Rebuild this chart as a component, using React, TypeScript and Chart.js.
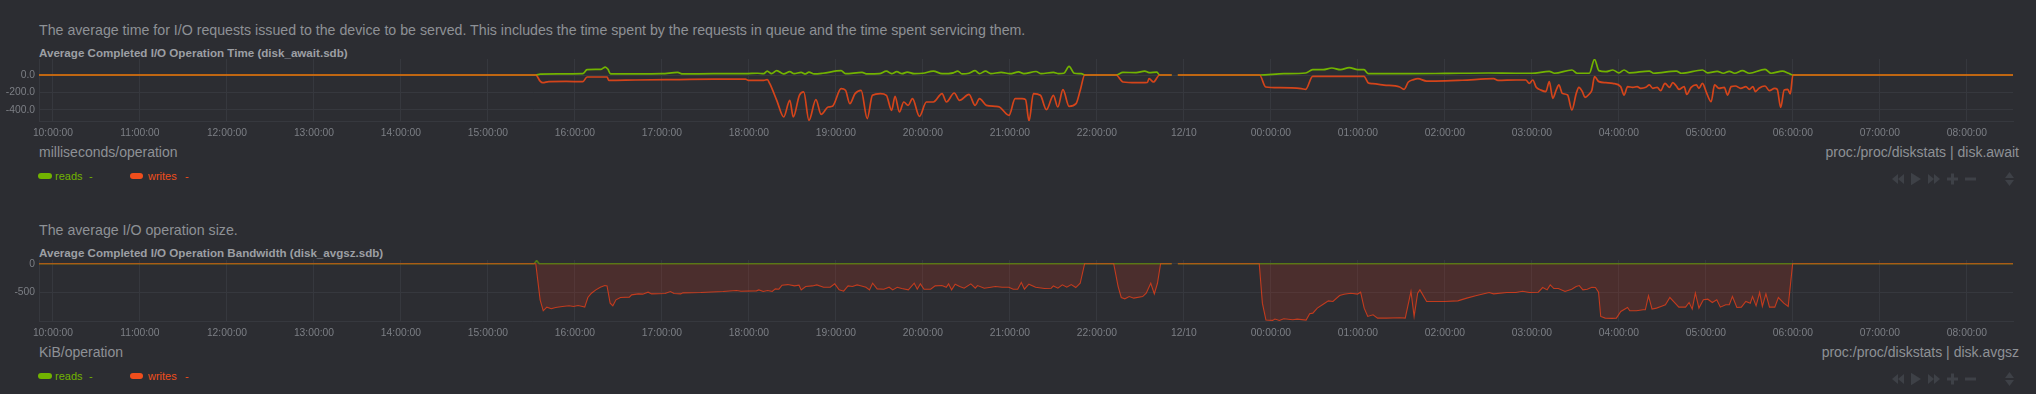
import React, { useEffect, useRef } from "react";
import { Chart, registerables } from "chart.js";

Chart.register(...registerables);

const FONT = "'Liberation Sans', Arial, Helvetica, sans-serif";
const BG = "#2c2d32";
const GRID = "#36383e";
const TICK = "#7c7f85";
const TEXT = "#8e9196";
const TITLE = "#9c9fa4";
const ICON = "#3e4147";
const READS = "#72b300";
const WRITES = "#f04e1c";

// x axis: hours since midnight of the first day (10 = 10:00, 24 = next midnight)
const hourTicks = [10, 11, 12, 13, 14, 15, 16, 17, 18, 19, 20, 21, 22, 23, 24, 25, 26, 27, 28, 29, 30, 31, 32];
const hourLabels = [
  "10:00:00", "11:00:00", "12:00:00", "13:00:00", "14:00:00", "15:00:00", "16:00:00",
  "17:00:00", "18:00:00", "19:00:00", "20:00:00", "21:00:00", "22:00:00", "12/10",
  "00:00:00", "01:00:00", "02:00:00", "03:00:00", "04:00:00", "05:00:00", "06:00:00",
  "07:00:00", "08:00:00",
];
const X_MIN = 9.84;
const X_MAX = 32.53;

type P = [number, number | null];

// disk.await (milliseconds/operation)
const awaitReads: P[] = [
  [9.84, 0], [15.55, 0], [15.6, 10], [15.8, 12], [16.09, 15], [16.14, 61], [16.3, 65], [16.35, 91], [16.38, 65],
  [16.41, 12], [16.7, 12], [17.0, 15], [17.18, 30], [17.24, 12], [17.6, 15], [17.96, 15], [18.1, 20], [18.17, 15],
  [18.21, 45], [18.26, 15], [18.32, 50], [18.4, 12], [18.47, 38], [18.52, 15], [18.6, 30], [18.65, 12], [18.69, 34],
  [18.75, 12], [18.85, 20], [19.06, 50], [19.11, 15], [19.3, 30], [19.36, 12], [19.5, 15], [19.58, 45], [19.64, 15],
  [19.7, 38], [19.76, 15], [19.82, 34], [19.9, 15], [20.0, 20], [20.12, 45], [20.22, 15], [20.35, 25], [20.4, 45],
  [20.45, 12], [20.53, 20], [20.6, 50], [20.65, 15], [20.72, 45], [20.78, 15], [20.9, 30], [21.0, 15], [21.1, 35],
  [21.16, 15], [21.3, 40], [21.36, 15], [21.5, 30], [21.56, 15], [21.62, 20], [21.68, 99], [21.74, 20], [21.82, 15],
  [21.86, 0], [22.22, 0], [22.3, 30], [22.45, 27], [22.55, 45], [22.6, 27], [22.69, 32], [22.72, 0], [22.86, 0],
  [22.895, null], [22.93, 0], [23.87, 0], [24.15, 15], [24.4, 23], [24.48, 61], [24.6, 61], [24.7, 80], [24.8, 61],
  [24.9, 84], [25.0, 61], [25.07, 61], [25.12, 15], [25.6, 15], [26.0, 18], [26.5, 23], [26.82, 20], [27.0, 20],
  [27.2, 42], [27.26, 20], [27.46, 57], [27.52, 20], [27.66, 20], [27.72, 179], [27.77, 50], [27.85, 38], [27.93, 57],
  [28.0, 25], [28.06, 57], [28.12, 25], [28.35, 45], [28.4, 20], [28.66, 45], [28.72, 20], [28.96, 57], [29.02, 25],
  [29.13, 42], [29.2, 20], [29.27, 42], [29.33, 20], [29.42, 50], [29.5, 20], [29.68, 65], [29.75, 20], [29.88, 45],
  [29.95, 20], [30.0, 0], [32.53, 0],
];

const awaitWrites: P[] = [
  [9.84, 0], [15.55, 0], [15.6, -69], [15.63, -88], [15.7, -76], [15.9, -74], [16.09, -76], [16.14, -23], [16.37, -23],
  [16.39, -61], [16.7, -57], [17.2, -52], [17.6, -48], [17.96, -46], [17.99, -61], [18.17, -61], [18.21, -53],
  [18.24, -99], [18.32, -290], [18.4, -480], [18.47, -290], [18.51, -480], [18.58, -232], [18.63, -194], [18.69, -518],
  [18.77, -282], [18.83, -450], [18.91, -366], [18.96, -358], [19.06, -156], [19.11, -175], [19.16, -328], [19.22, -213],
  [19.29, -175], [19.36, -499], [19.42, -232], [19.51, -213], [19.58, -232], [19.64, -404], [19.68, -244], [19.73, -423],
  [19.78, -309], [19.83, -347], [19.88, -271], [19.96, -472], [20.04, -309], [20.12, -309], [20.22, -213], [20.27, -309],
  [20.36, -206], [20.42, -290], [20.53, -221], [20.6, -347], [20.65, -271], [20.73, -347], [20.83, -358], [20.88, -366],
  [20.99, -461], [21.06, -271], [21.14, -271], [21.18, -282], [21.22, -526], [21.27, -213], [21.35, -232], [21.42, -396],
  [21.5, -232], [21.55, -366], [21.61, -168], [21.68, -358], [21.76, -328], [21.81, -168], [21.86, 0], [22.22, 0],
  [22.3, -80], [22.45, -88], [22.58, -84], [22.6, -42], [22.65, -80], [22.72, 0], [22.86, 0], [22.895, null], [22.93, 0],
  [23.87, 0], [23.94, -137], [24.1, -145], [24.35, -156], [24.4, -164], [24.48, -15], [25.07, -15], [25.12, -91],
  [25.17, -99], [25.3, -115], [25.48, -137], [25.53, -164], [25.58, -80], [25.64, -53], [25.69, -42], [25.79, -69],
  [25.89, -69], [26.2, -60], [26.56, -42], [26.61, -61], [26.82, -57], [26.93, -57], [26.97, -95], [27.01, -57],
  [27.05, -141], [27.1, -171], [27.16, -190], [27.2, -76], [27.24, -267], [27.28, -171], [27.31, -114], [27.35, -210],
  [27.41, -229], [27.46, -400], [27.51, -210], [27.54, -141], [27.58, -190], [27.61, -255], [27.66, -217], [27.69, -171],
  [27.72, -19], [27.77, -76], [27.85, -88], [27.93, -95], [28.02, -133], [28.06, -229], [28.1, -133], [28.16, -141],
  [28.21, -133], [28.25, -152], [28.31, -141], [28.35, -114], [28.39, -152], [28.44, -141], [28.48, -179], [28.53, -95],
  [28.58, -141], [28.62, -88], [28.66, -126], [28.69, -164], [28.75, -133], [28.78, -221], [28.83, -141], [28.89, -114],
  [28.92, -152], [28.96, -95], [29.01, -210], [29.06, -305], [29.1, -114], [29.15, -152], [29.21, -141], [29.25, -229],
  [29.29, -133], [29.34, -126], [29.4, -152], [29.46, -133], [29.5, -164], [29.54, -133], [29.57, -190], [29.61, -152],
  [29.68, -126], [29.73, -179], [29.79, -152], [29.82, -164], [29.86, -370], [29.9, -171], [29.94, -164], [29.97, -217],
  [30.0, 0], [32.53, 0],
];

// disk.avgsz (KiB/operation)
const avgszReads: P[] = [
  [9.84, 0], [15.53, 0], [15.56, 57], [15.59, 0], [22.86, 0], [22.895, null], [22.93, 0], [32.53, 0],
];

const avgszWrites: P[] = [
  [9.84, 0], [15.55, 0], [15.6, -626], [15.636, -816], [15.677, -753], [15.728, -781], [15.779, -758], [15.856, -741],
  [15.933, -730], [15.985, -741], [16.036, -724], [16.087, -741], [16.113, -753], [16.149, -586], [16.19, -511],
  [16.241, -454], [16.292, -408], [16.344, -379], [16.369, -385], [16.405, -684], [16.436, -730], [16.472, -626],
  [16.523, -586], [16.626, -580], [16.652, -540], [16.729, -523], [16.78, -528], [16.841, -494], [16.882, -523],
  [17.036, -517], [17.098, -482], [17.139, -517], [17.216, -523], [17.242, -505], [17.447, -500], [17.703, -482],
  [17.857, -465], [17.909, -477], [18.088, -471], [18.114, -454], [18.165, -482], [18.216, -465], [18.268, -482],
  [18.304, -436], [18.345, -442], [18.381, -373], [18.447, -362], [18.524, -385], [18.576, -373], [18.601, -454],
  [18.653, -396], [18.73, -385], [18.781, -367], [18.858, -408], [18.935, -408], [18.986, -350], [19.037, -454],
  [19.089, -477], [19.14, -385], [19.191, -396], [19.243, -367], [19.294, -385], [19.345, -408], [19.386, -454],
  [19.422, -339], [19.474, -436], [19.551, -442], [19.612, -408], [19.653, -454], [19.705, -408], [19.756, -431],
  [19.833, -454], [19.9, -339], [19.935, -442], [19.971, -350], [20.012, -442], [20.089, -442], [20.141, -385],
  [20.218, -379], [20.269, -408], [20.295, -350], [20.33, -454], [20.371, -356], [20.423, -396], [20.474, -425],
  [20.551, -350], [20.602, -425], [20.628, -379], [20.705, -425], [20.782, -408], [20.833, -396], [20.91, -408],
  [20.987, -408], [21.038, -442], [21.09, -442], [21.131, -327], [21.167, -442], [21.218, -356], [21.295, -408],
  [21.398, -431], [21.475, -425], [21.5, -385], [21.552, -425], [21.603, -367], [21.654, -408], [21.705, -362],
  [21.757, -413], [21.808, -339], [21.859, 0], [22.193, 0], [22.244, -396], [22.28, -586], [22.321, -609],
  [22.372, -569], [22.424, -597], [22.526, -569], [22.567, -511], [22.619, -339], [22.66, -523], [22.696, -339],
  [22.732, 0], [22.86, 0], [22.895, null], [22.93, 0], [23.866, 0], [23.902, -684], [23.943, -977], [24.02, -983],
  [24.046, -960], [24.097, -983], [24.148, -954], [24.251, -971], [24.302, -960], [24.405, -977], [24.446, -868],
  [24.482, -857], [24.533, -770], [24.61, -695], [24.661, -644], [24.713, -655], [24.79, -551], [24.841, -528],
  [24.918, -511], [24.995, -528], [25.031, -494], [25.072, -770], [25.113, -914], [25.174, -885], [25.226, -943],
  [25.328, -943], [25.482, -937], [25.544, -943], [25.61, -482], [25.646, -914], [25.687, -511], [25.713, -454],
  [25.79, -655], [25.893, -655], [25.995, -655], [26.149, -644], [26.252, -597], [26.354, -557], [26.508, -500],
  [26.56, -523], [26.713, -500], [26.816, -500], [26.893, -477], [26.97, -500], [27.073, -494], [27.124, -413],
  [27.175, -454], [27.211, -367], [27.252, -431], [27.304, -431], [27.381, -482], [27.458, -442], [27.509, -396],
  [27.545, -379], [27.586, -454], [27.637, -442], [27.689, -408], [27.73, -413], [27.766, -494], [27.791, -914],
  [27.842, -943], [27.919, -948], [27.971, -943], [28.022, -828], [28.099, -759], [28.125, -816], [28.202, -816],
  [28.279, -799], [28.304, -799], [28.34, -557], [28.381, -787], [28.432, -770], [28.484, -741], [28.535, -712],
  [28.586, -586], [28.638, -672], [28.689, -753], [28.766, -753], [28.807, -672], [28.843, -787], [28.879, -511],
  [28.92, -770], [28.971, -626], [29.022, -615], [29.074, -672], [29.125, -626], [29.166, -753], [29.228, -712],
  [29.269, -712], [29.305, -569], [29.356, -758], [29.408, -753], [29.459, -655], [29.51, -684], [29.536, -569],
  [29.577, -730], [29.618, -500], [29.649, -741], [29.69, -523], [29.731, -753], [29.792, -753], [29.833, -586],
  [29.895, -684], [29.946, -741], [29.997, 0], [32.53, 0],
];

const awaitYTicks = [0, -200, -400];
const awaitYMin = -526;
const awaitYMax = 183;
const avgszYTicks = [0, -500];
const avgszYMin = -993;
const avgszYMax = 64;

const toXY = (p: P[]) => p.map(([x, y]) => ({ x, y }));

type LCProps = {
  top: number;
  height: number;
  datasets: any[];
  yMin: number;
  yMax: number;
  yTicks: number[];
  decimals: number;
};

function LineChart({ top, height, datasets, yMin, yMax, yTicks, decimals }: LCProps) {
  const ref = useRef<HTMLCanvasElement>(null);
  useEffect(() => {
    const tickFont = { family: FONT, size: 10.3 };
    const chart = new Chart(ref.current as HTMLCanvasElement, {
      type: "line",
      data: { datasets },
      options: {
        animation: false,
        responsive: false,
        maintainAspectRatio: false,
        layout: { padding: { top: 4, right: 23, left: 0, bottom: 0 } },
        plugins: { legend: { display: false }, tooltip: { enabled: false } },
        elements: { point: { radius: 0 } },
        scales: {
          x: {
            type: "linear",
            min: X_MIN,
            max: X_MAX,
            afterBuildTicks: (s: any) => {
              s.ticks = hourTicks.map((v) => ({ value: v }));
            },
            afterFit: (s: any) => {
              s.height = 18;
              s.paddingLeft = 0;
              s.paddingRight = 0;
            },
            ticks: {
              autoSkip: false,
              maxRotation: 0,
              minRotation: 0,
              padding: 6,
              color: TICK,
              font: tickFont,
              callback: (_v: any, i: number) => hourLabels[i],
            },
            grid: { color: GRID, drawTicks: false, lineWidth: 1 },
            border: { display: true, color: GRID },
          },
          y: {
            type: "linear",
            min: yMin,
            max: yMax,
            afterBuildTicks: (s: any) => {
              s.ticks = yTicks.map((v) => ({ value: v }));
            },
            afterFit: (s: any) => {
              s.width = 39;
              s.paddingTop = 0;
              s.paddingBottom = 0;
            },
            ticks: {
              padding: 4,
              color: TICK,
              font: tickFont,
              callback: (v: any) => Number(v).toFixed(decimals),
            },
            grid: { color: GRID, drawTicks: false, lineWidth: 1 },
            border: { display: true, color: GRID },
          },
        },
      } as any,
    });
    return () => chart.destroy();
  }, []);
  return (
    <canvas
      ref={ref}
      width={2036}
      height={height}
      style={{ position: "absolute", left: 0, top, width: 2036, height }}
    />
  );
}

function Icons({ top }: { top: number }) {
  return (
    <svg
      width={130}
      height={18}
      style={{ position: "absolute", left: 1888, top }}
      viewBox="0 0 130 18"
    >
      <g fill={ICON}>
        <polygon points="4,9 10,4 10,14" />
        <polygon points="10,9 16,4 16,14" />
        <polygon points="23,2.7 33,9 23,15.3" />
        <polygon points="40,4 46,9 40,14" />
        <polygon points="46,4 52,9 46,14" />
        <rect x={59} y={7.5} width={11} height={3} />
        <rect x={63} y={3.5} width={3} height={11} />
        <rect x={77} y={7.5} width={11} height={3} />
        <polygon points="117,8 121.5,2 126,8" />
        <polygon points="117,10 121.5,16 126,10" />
      </g>
    </svg>
  );
}

type BlockProps = {
  dy: number;
  desc: string;
  title: string;
  units: string;
  context: string;
};

function Texts({ dy, desc, title, units, context }: BlockProps) {
  const base: React.CSSProperties = {
    position: "absolute",
    whiteSpace: "nowrap",
    fontFamily: FONT,
  };
  return (
    <>
      <div style={{ ...base, left: 39, top: 21.5 + dy, fontSize: 14.2, lineHeight: "16px", color: TEXT }}>{desc}</div>
      <div style={{ ...base, left: 39, top: 45.5 + dy, fontSize: 11.6, lineHeight: "14px", fontWeight: "bold", color: TITLE }}>
        {title}
      </div>
      <div style={{ ...base, left: 39, top: 143.7 + dy, fontSize: 14, lineHeight: "16px", color: TEXT }}>{units}</div>
      <div style={{ ...base, right: 17, top: 144 + dy, fontSize: 14, lineHeight: "16px", color: TEXT }}>{context}</div>
      <div style={{ position: "absolute", left: 38.3, top: 172.7 + dy, width: 13.4, height: 6.7, borderRadius: 4, background: READS }} />
      <div style={{ ...base, left: 55, top: 169.7 + dy, fontSize: 11, lineHeight: "13px", color: READS }}>reads</div>
      <div style={{ ...base, left: 89, top: 169.7 + dy, fontSize: 11, lineHeight: "13px", color: READS }}>-</div>
      <div style={{ position: "absolute", left: 130, top: 172.7 + dy, width: 13.4, height: 6.7, borderRadius: 4, background: WRITES }} />
      <div style={{ ...base, left: 148, top: 169.7 + dy, fontSize: 11, lineHeight: "13px", color: WRITES }}>writes</div>
      <div style={{ ...base, left: 185, top: 169.7 + dy, fontSize: 11, lineHeight: "13px", color: WRITES }}>-</div>
      <Icons top={170 + dy} />
    </>
  );
}

export default function App() {
  const awaitDatasets = [
    {
      label: "reads",
      data: toXY(awaitReads),
      borderColor: READS,
      borderWidth: 1.7,
      cubicInterpolationMode: "monotone",
      spanGaps: false,
      fill: false,
      order: 2,
    },
    {
      label: "writes",
      data: toXY(awaitWrites),
      borderColor: "rgba(255,74,20,0.8)",
      borderWidth: 1.7,
      cubicInterpolationMode: "monotone",
      spanGaps: false,
      fill: false,
      order: 1,
    },
  ];
  const avgszDatasets = [
    {
      label: "reads",
      data: toXY(avgszReads),
      borderColor: "rgba(102,170,0,0.6)",
      backgroundColor: "rgba(102,170,0,0.15)",
      borderWidth: 1.5,
      tension: 0,
      spanGaps: false,
      fill: "origin",
      order: 2,
    },
    {
      label: "writes",
      data: toXY(avgszWrites),
      borderColor: "rgba(240,64,24,0.75)",
      backgroundColor: "rgba(254,57,18,0.15)",
      borderWidth: 1.1,
      tension: 0,
      spanGaps: false,
      fill: "origin",
      order: 1,
    },
  ];

  return (
    <div
      style={{
        position: "absolute",
        left: 0,
        top: 0,
        width: 2036,
        height: 394,
        background: BG,
        overflow: "hidden",
      }}
    >
      <style>{`html,body{margin:0;padding:0;background:${BG};}`}</style>
      <Texts
        dy={0}
        desc="The average time for I/O requests issued to the device to be served. This includes the time spent by the requests in queue and the time spent servicing them."
        title="Average Completed I/O Operation Time (disk_await.sdb)"
        units="milliseconds/operation"
        context="proc:/proc/diskstats | disk.await"
      />
      <LineChart
        top={55}
        height={84}
        datasets={awaitDatasets}
        yMin={awaitYMin}
        yMax={awaitYMax}
        yTicks={awaitYTicks}
        decimals={1}
      />
      <Texts
        dy={200}
        desc="The average I/O operation size."
        title="Average Completed I/O Operation Bandwidth (disk_avgsz.sdb)"
        units="KiB/operation"
        context="proc:/proc/diskstats | disk.avgsz"
      />
      <LineChart
        top={256}
        height={83}
        datasets={avgszDatasets}
        yMin={avgszYMin}
        yMax={avgszYMax}
        yTicks={avgszYTicks}
        decimals={0}
      />
    </div>
  );
}
